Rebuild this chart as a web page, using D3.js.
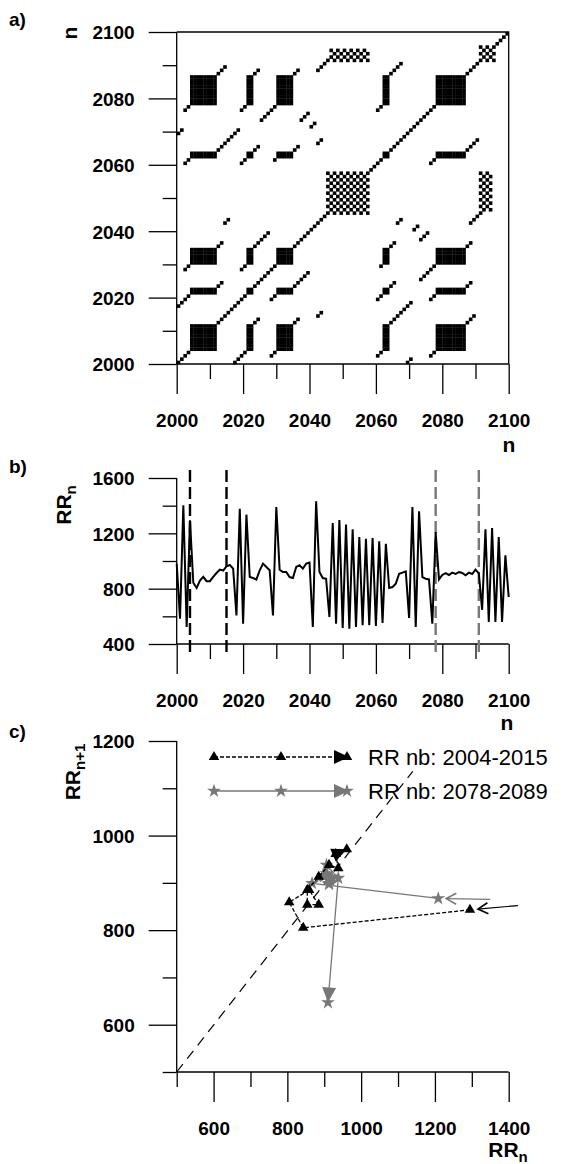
<!DOCTYPE html>
<html>
<head>
<meta charset="utf-8">
<script src="https://cdn.jsdelivr.net/npm/d3@7/dist/d3.min.js"></script>
<style>
  body { margin: 0; background: #fff; }
  text { font-family: "Liberation Sans", Arial, sans-serif; }
</style>
</head>
<body>
<svg id="fig" width="569" height="1164"></svg>
<script>
// ---- data ----
const years = d3.range(2000, 2101);
const rr = [
  980, 583, 1402, 523, 1295, 843, 805, 859, 885, 854,
  854, 885, 913, 938, 931, 961, 971, 945, 607, 1378,
  547, 1335, 884, 877, 865, 933, 981, 957, 933, 607,
  1390, 937, 920, 920, 884, 877, 957, 969, 945, 981,
  988, 523, 1431, 920, 877, 872, 595, 1274, 547, 1296,
  516, 1263, 511, 1229, 523, 1173, 535, 1161, 535, 1166,
  530, 1142, 552, 1125, 805, 812, 836, 908, 916, 925,
  588, 1390, 523, 1359, 884, 872, 867, 547, 1209, 867,
  899, 913, 899, 916, 906, 920, 913, 897, 916, 906,
  938, 910, 647, 1229, 559, 1239, 559, 1173, 559, 1041,
  740
];
const windowA = [2004, 2015];
const windowB = [2078, 2091];
const legendLabels = ["RR nb: 2004-2015", "RR nb: 2078-2089"];
const entryA = [1425, 852];   // where the incoming arrow starts (RRn, RRn+1)
const entryB = [1350, 865];

const nTicks = d3.range(2000, 2101, 10);
const rrTicks = d3.range(400, 1601, 200);
const cxTicks = d3.range(500, 1401, 100);
const cyTicks = d3.range(500, 1201, 100);

// recurrence plot, upper triangle (mirrored when drawn)
// blocks: [i0, i1, j0, j1, diagonal dots before, diagonal dots after]
const rpBlocks = [
  [2004, 2011, 2004, 2011, 0, 0],
  [2021, 2022, 2021, 2022, 0, 0],
  [2030, 2034, 2030, 2034, 0, 0],
  [2062, 2063, 2062, 2063, 0, 0],
  [2078, 2086, 2078, 2086, 0, 0],
  [2004, 2011, 2021, 2022, 4, 2],
  [2004, 2011, 2030, 2034, 2, 2],
  [2004, 2011, 2062, 2063, 2, 7],
  [2004, 2011, 2078, 2086, 2, 3],
  [2021, 2022, 2030, 2034, 2, 5],
  [2021, 2022, 2062, 2063, 2, 2],
  [2021, 2022, 2078, 2086, 2, 2],
  [2030, 2034, 2062, 2063, 1, 2],
  [2030, 2034, 2078, 2086, 5, 2],
  [2062, 2063, 2078, 2086, 2, 4]
];
// diagonal runs: [i0, j0, length]
const rpRuns = [
  [2000, 2000, 100],
  [2000, 2069, 2],
  [2014, 2042, 2],
  [2037, 2073, 3],
  [2040, 2071, 2],
  [2042, 2066, 2],
  [2042, 2088, 4]
];
// checkerboard regions: [i0, i1, j0, j1]
const rpChecks = [
  [2045, 2057, 2045, 2057],
  [2046, 2057, 2091, 2094],
  [2091, 2095, 2091, 2095]
];

// ---- build recurrence cells ----
const cellSet = new Set();
function addCell(i, j) {
  if (i < 2000 || j < 2000 || i > 2099 || j > 2099) return;
  cellSet.add(i + "," + j);
  cellSet.add(j + "," + i);
}
rpBlocks.forEach(([i0, i1, j0, j1, b, a]) => {
  for (let i = i0; i <= i1; i++) for (let j = j0; j <= j1; j++) addCell(i, j);
  for (let k = 1; k <= b; k++) addCell(i0 - k, j0 - k);
  for (let k = 1; k <= a; k++) addCell(i1 + k, j1 + k);
});
rpRuns.forEach(([i0, j0, len]) => {
  for (let k = 0; k < len; k++) addCell(i0 + k, j0 + k);
});
rpChecks.forEach(([i0, i1, j0, j1]) => {
  for (let i = i0; i <= i1; i++)
    for (let j = j0; j <= j1; j++)
      if ((i - j) % 2 === 0) addCell(i, j);
});
const cells = Array.from(cellSet).map(s => s.split(",").map(Number));

// ---- layout ----
const svg = d3.select("#fig");
const X0 = 176.7, X1 = 508.7;
const tickFont = "19px", titleFont = "21px";

function axisStyle(g) {
  g.select(".domain").attr("stroke-width", 1.3);
  g.selectAll(".tick line").attr("stroke-width", 1.3);
  g.selectAll(".tick text").attr("font-size", tickFont).attr("font-weight", "bold")
    .attr("font-family", "Liberation Sans, Arial, sans-serif").attr("fill", "#000");
}
function drawAxes(g, x, y, xt, yt, xMajor, yMajor) {
  const ax = g.append("g").attr("transform", `translate(0,${y.range()[0]})`)
    .call(d3.axisBottom(x).tickValues(xt).tickSize(0).tickPadding(0).tickFormat(d3.format("d")));
  ax.selectAll(".tick line").attr("y2", d => xMajor(d) ? 30 : 15).attr("stroke", "#000");
  ax.selectAll(".tick text").attr("y", 63).attr("dy", 0);
  ax.selectAll(".tick").filter(d => !xMajor(d)).select("text").remove();
  ax.select(".domain").attr("d", `M${x.range()[0]},0H${x.range()[1]}`);
  axisStyle(ax);

  const ay = g.append("g").attr("transform", `translate(${x.range()[0]},0)`)
    .call(d3.axisLeft(y).tickValues(yt).tickSize(0).tickPadding(0).tickFormat(d3.format("d")));
  ay.selectAll(".tick line").attr("x2", d => yMajor(d) ? -28 : -14).attr("stroke", "#000");
  ay.selectAll(".tick text").attr("x", -42).attr("dy", "0.36em");
  ay.selectAll(".tick").filter(d => !yMajor(d)).select("text").remove();
  ay.select(".domain").attr("d", `M0,${y.range()[0]}V${y.range()[1]}`);
  axisStyle(ay);
}

function label(txt, x, y, size, opts = {}) {
  return svg.append("text").attr("x", x).attr("y", y)
    .attr("font-size", size).attr("font-weight", opts.weight || "bold")
    .attr("text-anchor", opts.anchor || "start").text(txt);
}

// ===== panel a: recurrence plot =====
const xa = d3.scaleLinear().domain([2000, 2100]).range([X0, X1]);
const ya = d3.scaleLinear().domain([2000, 2100]).range([364, 32]);
const ga = svg.append("g");
ga.append("g").selectAll("rect").data(cells).join("rect")
  .attr("x", d => xa(d[0]))
  .attr("y", d => ya(d[1] + 1))
  .attr("width", xa(2001) - xa(2000) + 0.3)
  .attr("height", ya(2000) - ya(2001) + 0.3)
  .attr("fill", "#000");
ga.append("path").attr("d", `M${X0},32H${X1}V364`).attr("fill", "none")
  .attr("stroke", "#000").attr("stroke-width", 1.3);
drawAxes(ga, xa, ya, nTicks, nTicks, d => d % 20 === 0, d => d % 20 === 0);
label("a)", 9, 26, "19px");
label("n", 509, 452, titleFont, {anchor: "middle"});
svg.append("text").attr("transform", "translate(77,33) rotate(-90)")
  .attr("text-anchor", "middle").attr("font-size", titleFont).attr("font-weight", "bold").text("n");

// ===== panel b: RR time series =====
const xb = d3.scaleLinear().domain([2000, 2100]).range([X0, X1]);
const yb = d3.scaleLinear().domain([400, 1600]).range([644, 478]);
const gb = svg.append("g");
drawAxes(gb, xb, yb, nTicks, rrTicks, d => d % 20 === 0, d => d % 400 === 0);
const marks = [
  {n: windowA[0], c: "#000"}, {n: windowA[1], c: "#000"},
  {n: windowB[0], c: "#777"}, {n: windowB[1], c: "#777"}
];
gb.selectAll("line.mark").data(marks).join("line").attr("class", "mark")
  .attr("x1", d => xb(d.n)).attr("x2", d => xb(d.n))
  .attr("y1", 470).attr("y2", 652)
  .attr("stroke", d => d.c).attr("stroke-width", 2.4)
  .attr("stroke-dasharray", "12,5");
gb.append("path").datum(years)
  .attr("d", d3.line().x(d => xb(d)).y((d, i) => yb(rr[i])))
  .attr("fill", "none").attr("stroke", "#000").attr("stroke-width", 2)
  .attr("stroke-linejoin", "miter");
label("b)", 9, 473, "19px");
label("n", 507, 730, titleFont, {anchor: "middle"});
const tb = svg.append("text").attr("transform", "translate(71,505) rotate(-90)")
  .attr("text-anchor", "middle").attr("font-size", titleFont).attr("font-weight", "bold");
tb.append("tspan").text("RR");
tb.append("tspan").attr("font-size", "15px").attr("dy", 5).text("n");

// ===== panel c: return map =====
const xc = d3.scaleLinear().domain([500, 1400]).range([X0, X1]);
const yc = d3.scaleLinear().domain([500, 1200]).range([1072, 741]);
const gc = svg.append("g");
drawAxes(gc, xc, yc, cxTicks, cyTicks, d => d % 200 === 0 && d > 500, d => d % 200 === 0 && d > 500);

// identity line
gc.append("line")
  .attr("x1", xc(500)).attr("y1", yc(500)).attr("x2", xc(1140)).attr("y2", yc(1136))
  .attr("stroke", "#000").attr("stroke-width", 1.2).attr("stroke-dasharray", "10,7");

function pairs(w) {
  return d3.range(w[0], w[1] + 1).map(n => [rr[n - 2000], rr[n - 1999]]);
}
const ptsA = pairs(windowA), ptsB = pairs(windowB);

const triPath = d3.symbol().type(d3.symbolTriangle).size(48)();
const starPath = d3.symbol().type(d3.symbolStar).size(60)();

function arrowHead(g, p, q, len, wid, color, open) {
  // tip at q, coming from p (pixel coords)
  const a = Math.atan2(q[1] - p[1], q[0] - p[0]);
  const bx = q[0] - len * Math.cos(a), by = q[1] - len * Math.sin(a);
  const nx = -Math.sin(a) * wid / 2, ny = Math.cos(a) * wid / 2;
  const d = `M${bx + nx},${by + ny}L${q[0]},${q[1]}L${bx - nx},${by - ny}` + (open ? "" : "Z");
  g.append("path").attr("d", d)
    .attr("fill", open ? "none" : color)
    .attr("stroke", open ? color : "none").attr("stroke-width", 1.6);
}

function series(g, pts, entry, color, dash, marker) {
  const px = pts.map(d => [xc(d[0]), yc(d[1])]);
  const e = [xc(entry[0]), yc(entry[1])];
  const a0 = Math.atan2(px[0][1] - e[1], px[0][0] - e[0]);
  const tip = [px[0][0] - 8 * Math.cos(a0), px[0][1] - 8 * Math.sin(a0)];
  g.append("line").attr("x1", e[0]).attr("y1", e[1]).attr("x2", tip[0]).attr("y2", tip[1])
    .attr("stroke", color).attr("stroke-width", 1.2);
  arrowHead(g, e, tip, 10, 11, color, true);
  g.append("path").datum(px).attr("d", d3.line())
    .attr("fill", "none").attr("stroke", color).attr("stroke-width", 1.3)
    .attr("stroke-dasharray", dash);
  g.selectAll(null).data(px).join("path")
    .attr("transform", d => `translate(${d[0]},${d[1]})`)
    .attr("d", marker).attr("fill", color);
  const n = px.length;
  arrowHead(g, px[n - 2], px[n - 1], 15, 14, color, false);
}
series(gc, ptsB, entryB, "#777", null, starPath);
series(gc, ptsA, entryA, "#000", "4,2", triPath);

// legend
const legend = [
  {y: 757, color: "#000", dash: "4,2", marker: triPath, text: legendLabels[0]},
  {y: 791, color: "#777", dash: null, marker: starPath, text: legendLabels[1]}
];
legend.forEach(l => {
  gc.append("line").attr("x1", 214).attr("x2", 340).attr("y1", l.y).attr("y2", l.y)
    .attr("stroke", l.color).attr("stroke-width", 1.3).attr("stroke-dasharray", l.dash);
  [214, 281, 347].forEach(x => gc.append("path")
    .attr("transform", `translate(${x},${l.y})`).attr("d", l.marker).attr("fill", l.color));
  arrowHead(gc, [214, l.y], [349, l.y], 15, 14, l.color, false);
  gc.append("text").attr("x", 368).attr("y", l.y + 8).attr("font-size", "22px")
    .attr("fill", "#000").text(l.text);
});

label("c)", 9, 738, "19px");
const tcx = svg.append("text").attr("x", 508).attr("y", 1157).attr("text-anchor", "middle")
  .attr("font-size", titleFont).attr("font-weight", "bold");
tcx.append("tspan").text("RR");
tcx.append("tspan").attr("font-size", "15px").attr("dy", 5).text("n");
const tcy = svg.append("text").attr("transform", "translate(80,772) rotate(-90)")
  .attr("text-anchor", "middle").attr("font-size", titleFont).attr("font-weight", "bold");
tcy.append("tspan").text("RR");
tcy.append("tspan").attr("font-size", "15px").attr("dy", 5).text("n+1");
</script>
</body>
</html>
